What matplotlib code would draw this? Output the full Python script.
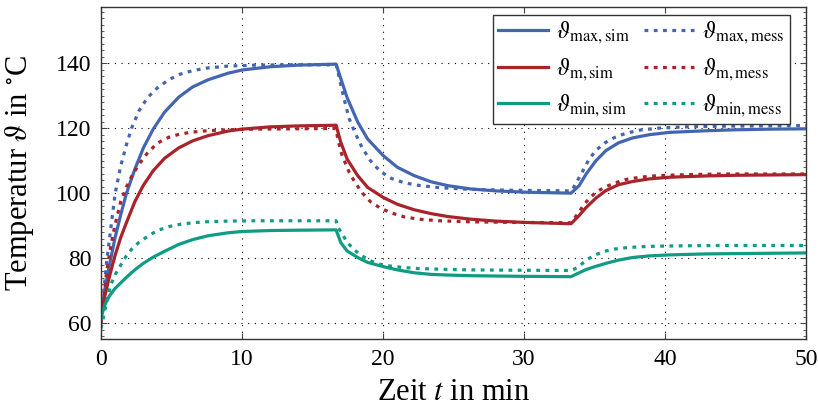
import numpy as np
import matplotlib
matplotlib.use("Agg")
import matplotlib.pyplot as plt
from matplotlib.ticker import MultipleLocator

plt.rcParams['font.family'] = ['Liberation Serif', 'DejaVu Serif']
plt.rcParams['mathtext.fontset'] = 'stix'

# --- data (time in min, temperature in degC) ---
t_sim = [0, 0.3, 0.6, 1, 1.4, 1.8, 2.4, 3, 3.7, 4.5, 5.5, 6.5, 7.6, 9, 10, 12, 14, 16.67,
         17.0, 17.45, 18.2, 18.9, 20, 21, 22.2, 23.4, 24.6, 26.2, 28, 30, 33.33,
         33.9, 34.4, 35.1, 35.8, 36.7, 37.7, 38.9, 40.3, 42.9, 45, 47.5, 50]

max_sim = [63, 71, 78, 86.5, 93.5, 100, 107.5, 114, 119.8, 125, 129.6, 132.8, 135, 137, 138, 139, 139.5, 139.8,
           135.4, 129.5, 122, 116.8, 111.7, 108.1, 105.5, 103.6, 102.4, 101.4, 100.8, 100.4, 100.1,
           102.4, 106, 110.1, 113.2, 115.6, 117.1, 118.1, 118.8, 119.3, 119.6, 119.8, 119.9]

m_sim = [63, 69, 74.5, 81, 86.5, 91, 97.5, 102.5, 107, 110.8, 114, 116.2, 117.8, 119.2, 119.8, 120.5, 120.8, 121,
         115.8, 110.6, 105.5, 101.9, 98.8, 96.7, 95, 93.8, 92.9, 92.1, 91.5, 91.1, 90.7,
         93.2, 95.7, 98.6, 100.9, 102.7, 103.7, 104.5, 105, 105.4, 105.6, 105.7, 105.8]

min_sim = [62, 66, 68.5, 70.8, 72.5, 74.2, 76.5, 78.5, 80.4, 82.2, 84.3, 85.8, 87, 87.9, 88.3, 88.6, 88.7, 88.8,
           84.9, 82.3, 80.3, 78.8, 77.5, 76.5, 75.6, 75.1, 74.9, 74.7, 74.6, 74.5, 74.4,
           75.6, 76.6, 77.6, 78.5, 79.5, 80.3, 80.8, 81.1, 81.4, 81.5, 81.6, 81.7]

t_mess = [0, 0.2, 0.4, 0.7, 1, 1.4, 1.8, 2.2, 2.7, 3.3, 4, 4.8, 5.6, 6.5, 7.5, 9, 11, 13.5, 16.67,
          16.8, 17.05, 17.3, 17.6, 18, 18.5, 19.1, 19.8, 20.6, 21.5, 22.5, 24, 26, 29, 33.33,
          33.5, 33.8, 34.2, 34.6, 35.1, 35.7, 36.4, 37.2, 38.2, 39.5, 41.5, 44, 47, 50]

max_mess = [61, 70, 79, 89.5, 100, 108.5, 115, 120.5, 125.5, 129.5, 132.5, 135, 136.7, 137.8, 138.6, 139.2, 139.5, 139.6, 139.6,
            137.5, 132.5, 128, 123, 118.8, 114.2, 110.1, 106.8, 104.6, 103.3, 102.5, 101.8, 101.3, 101, 100.8,
            101.8, 104.1, 107.2, 110.5, 113.3, 115.5, 117.2, 118.5, 119.5, 120.1, 120.5, 120.7, 120.8, 120.9]

m_mess = [60, 68, 76, 84, 90.5, 97.5, 102, 105.5, 109, 112.5, 115.5, 117.3, 118.3, 118.9, 119.3, 119.6, 119.8, 119.9, 120,
          116.5, 112.3, 109.6, 106.5, 103.5, 100.3, 97.5, 95.5, 94, 92.8, 92.1, 91.6, 91.3, 91.1, 91,
          92, 93.7, 96.3, 98.4, 100.4, 101.9, 103.2, 104.3, 105, 105.5, 105.8, 106, 106, 106]

min_mess = [58.5, 62.5, 66.8, 72, 75, 78, 80.8, 83, 85, 86.8, 88.6, 89.8, 90.5, 91, 91.3, 91.5, 91.6, 91.6, 91.6,
            89.5, 88, 86.1, 84.3, 82.5, 80.8, 79.3, 78.2, 77.6, 77.2, 76.9, 76.7, 76.5, 76.4, 76.3,
            76.6, 77.3, 78.7, 80, 81.2, 82.2, 82.9, 83.3, 83.6, 83.8, 83.9, 84, 84, 84]

labels = [r'$\vartheta_{\mathrm{max,sim}}$', r'$\vartheta_{\mathrm{max,mess}}$',
          r'$\vartheta_{\mathrm{m,sim}}$', r'$\vartheta_{\mathrm{m,mess}}$',
          r'$\vartheta_{\mathrm{min,sim}}$', r'$\vartheta_{\mathrm{min,mess}}$']

blue, red, green = '#4466b0', '#a8242a', '#109c84'
lw = 2.3
dots = (0, (1.2, 1.7))

fig = plt.figure(figsize=(8.18, 4.09), dpi=100)
ax = fig.add_axes([0.1235, 0.171, 0.862, 0.812])

ax.plot(t_sim, max_sim, color=blue, lw=lw, label=labels[0])
ax.plot(t_mess, max_mess, color=blue, lw=lw, ls=dots, label=labels[1])
ax.plot(t_sim, m_sim, color=red, lw=lw, label=labels[2])
ax.plot(t_mess, m_mess, color=red, lw=lw, ls=dots, label=labels[3])
ax.plot(t_sim, min_sim, color=green, lw=lw, label=labels[4])
ax.plot(t_mess, min_mess, color=green, lw=lw, ls=dots, label=labels[5])

ax.set_xlim(0, 50)
ax.set_ylim(55.2, 157.4)
ax.xaxis.set_major_locator(MultipleLocator(10))
ax.yaxis.set_major_locator(MultipleLocator(20))
ax.yaxis.set_minor_locator(MultipleLocator(2))
ax.tick_params(which='both', direction='in', top=True, right=True, labelsize=17, color='#444444', pad=7)
ax.tick_params(which='major', length=4, width=0.8)
ax.tick_params(which='minor', length=2.5, width=0.6)
ax.grid(True, which='major', color='black', ls=(0, (1, 5)), lw=0.8)
for sp in ax.spines.values():
    sp.set_color('#333333')
    sp.set_linewidth(1.0)

ax.set_xlabel(r'Zeit $t$ in min', fontsize=22, labelpad=6)
ax.set_ylabel(r'Temperatur $\vartheta$ in $^{\circ}$C', fontsize=22, labelpad=14)

# matplotlib fills legend columns first, so reorder to get sim | mess per row
h, l = ax.get_legend_handles_labels()
order = [0, 2, 4, 1, 3, 5]
leg = ax.legend([h[i] for i in order], [l[i] for i in order], ncol=2, loc='upper right',
                bbox_to_anchor=(0.977, 0.976), borderaxespad=0, fontsize=17,
                fancybox=False, framealpha=1, edgecolor='#333333',
                handlelength=2.1, handletextpad=0.35, columnspacing=0.6,
                labelspacing=0.42, borderpad=0.22)
leg.get_frame().set_linewidth(1.0)

fig.savefig('out.png', dpi=100)
